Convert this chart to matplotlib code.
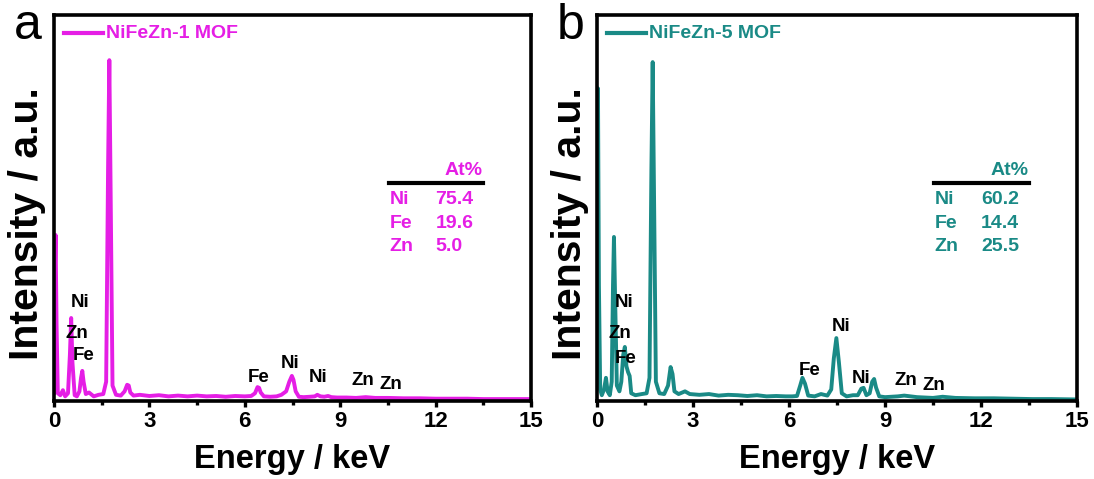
import matplotlib
matplotlib.use("Agg")
import matplotlib.pyplot as plt
from matplotlib.ticker import MultipleLocator

plt.rcParams['font.family'] = ['Liberation Sans', 'DejaVu Sans']
plt.rcParams['font.weight'] = 'bold'

# ---------------- data ----------------
energy_a = [0.00, 0.02, 0.05, 0.08, 0.12, 0.20, 0.28, 0.35, 0.44, 0.50, 0.54, 0.58, 0.65,
            0.72, 0.80, 0.85, 0.89, 0.93, 1.00, 1.10, 1.25, 1.40, 1.55, 1.64, 1.70, 1.74,
            1.78, 1.84, 1.95, 2.10, 2.22, 2.30, 2.35, 2.40, 2.50, 2.70, 3.00, 3.30, 3.60,
            3.90, 4.20, 4.50, 4.80, 5.10, 5.40, 5.70, 6.00, 6.20, 6.32, 6.40, 6.45, 6.50,
            6.60, 6.80, 7.00, 7.15, 7.30, 7.40, 7.48, 7.53, 7.60, 7.70, 7.85, 8.05, 8.20,
            8.28, 8.38, 8.50, 8.62, 8.72, 8.90, 9.20, 9.50, 9.80, 10.10, 10.50, 11.00,
            11.50, 12.00, 12.50, 13.00, 13.50, 14.00, 14.50, 15.00]
intensity_a = [0.02, 0.30, 0.43, 0.20, 0.02, 0.015, 0.028, 0.012, 0.02, 0.12, 0.215, 0.10, 0.015,
               0.012, 0.025, 0.06, 0.078, 0.05, 0.018, 0.022, 0.012, 0.016, 0.018, 0.05, 0.60, 0.883,
               0.55, 0.04, 0.016, 0.014, 0.025, 0.042, 0.04, 0.022, 0.014, 0.016, 0.013, 0.015, 0.012,
               0.014, 0.012, 0.014, 0.012, 0.013, 0.011, 0.013, 0.012, 0.013, 0.02, 0.036, 0.034, 0.022,
               0.012, 0.011, 0.012, 0.016, 0.025, 0.05, 0.065, 0.055, 0.025, 0.011, 0.010, 0.011, 0.012,
               0.016, 0.012, 0.011, 0.013, 0.010, 0.009, 0.009, 0.008, 0.010, 0.008, 0.008, 0.007,
               0.007, 0.006, 0.006, 0.006, 0.005, 0.005, 0.005, 0.005]

energy_b = [0.00, 0.03, 0.06, 0.10, 0.15, 0.22, 0.28, 0.33, 0.40, 0.46, 0.50, 0.53, 0.57,
            0.62, 0.70, 0.76, 0.82, 0.87, 0.92, 0.97, 1.02, 1.07, 1.20, 1.40, 1.55, 1.64,
            1.70, 1.74, 1.78, 1.84, 1.95, 2.10, 2.22, 2.30, 2.36, 2.42, 2.55, 2.75, 2.90,
            3.20, 3.50, 3.80, 4.10, 4.40, 4.70, 5.00, 5.30, 5.60, 5.90, 6.10, 6.25, 6.35,
            6.42, 6.50, 6.60, 6.80, 7.00, 7.20, 7.32, 7.40, 7.48, 7.56, 7.65, 7.80, 8.00,
            8.15, 8.26, 8.33, 8.42, 8.52, 8.60, 8.66, 8.72, 8.82, 9.00, 9.40, 9.60, 10.00,
            10.50, 10.80, 11.20, 11.80, 12.40, 13.00, 13.60, 14.20, 15.00]
intensity_b = [0.50, 0.81, 0.30, 0.03, 0.015, 0.03, 0.06, 0.025, 0.015, 0.05, 0.30, 0.425, 0.25,
               0.04, 0.025, 0.05, 0.12, 0.14, 0.09, 0.075, 0.065, 0.02, 0.015, 0.018, 0.02, 0.06,
               0.60, 0.878, 0.55, 0.05, 0.02, 0.018, 0.04, 0.088, 0.07, 0.025, 0.018, 0.025, 0.018,
               0.016, 0.018, 0.014, 0.016, 0.015, 0.013, 0.015, 0.012, 0.013, 0.012, 0.012, 0.013, 0.04,
               0.06, 0.045, 0.014, 0.012, 0.018, 0.014, 0.03, 0.11, 0.163, 0.10, 0.02, 0.012, 0.015,
               0.015, 0.032, 0.034, 0.015, 0.02, 0.05, 0.057, 0.035, 0.012, 0.010, 0.012, 0.014, 0.010,
               0.008, 0.011, 0.008, 0.007, 0.007, 0.006, 0.005, 0.005, 0.004]

names = ["NiFeZn-1 MOF", "NiFeZn-5 MOF"]
colors = ["#E51EE5", "#1A8A86"]
panel_letters = ["a", "b"]

elements = ["Ni", "Fe", "Zn"]
at_percent_a = ["75.4", "19.6", "5.0"]
at_percent_b = ["60.2", "14.4", "25.5"]

peak_labels_a = ["Ni", "Zn", "Fe", "Fe", "Ni", "Ni", "Zn", "Zn"]
peak_label_x_a = [0.83, 0.73, 0.92, 6.44, 7.43, 8.32, 9.71, 10.60]
peak_label_y_a = [0.256, 0.176, 0.117, 0.062, 0.096, 0.060, 0.052, 0.044]

peak_labels_b = ["Ni", "Zn", "Fe", "Fe", "Ni", "Ni", "Zn", "Zn"]
peak_label_x_b = [0.85, 0.72, 0.91, 6.65, 7.62, 8.25, 9.66, 10.54]
peak_label_y_b = [0.254, 0.174, 0.111, 0.080, 0.192, 0.057, 0.052, 0.041]

x_ticks = [0, 3, 6, 9, 12, 15]

# ---------------- figure ----------------
fig = plt.figure(figsize=(10.94, 4.79), dpi=100)
axes_rects = [[54 / 1094, 78 / 479, 477 / 1094, 386 / 479],
              [597 / 1094, 78 / 479, 480 / 1094, 386 / 479]]

datasets = [(energy_a, intensity_a, at_percent_a, peak_labels_a, peak_label_x_a, peak_label_y_a),
            (energy_b, intensity_b, at_percent_b, peak_labels_b, peak_label_x_b, peak_label_y_b)]

for i, (ex, iy, atp, pl, plx, ply) in enumerate(datasets):
    ax = fig.add_axes(axes_rects[i])
    c = colors[i]
    ax.plot(ex, iy, color=c, lw=2.8, solid_joinstyle='round')
    ax.set_xlim(0, 15)
    ax.set_ylim(0, 1)
    ax.set_xticks(x_ticks)
    ax.xaxis.set_minor_locator(MultipleLocator(1.5))
    ax.set_yticks([])
    ax.tick_params(axis='x', which='both', direction='out', width=2.4, labelsize=16,
                   pad=3)
    ax.tick_params(axis='x', which='major', length=4)
    ax.tick_params(axis='x', which='minor', length=3)
    for lab in ax.get_xticklabels():
        lab.set_fontweight('bold')
    for s in ax.spines.values():
        s.set_linewidth(2.6)
    ax.set_xlabel("Energy / keV", fontsize=23.5, fontweight='bold', labelpad=9)
    ax.set_ylabel("Intensity / a.u.", fontsize=29.5, fontweight='bold')
    ax.yaxis.set_label_coords(-0.016, 0.46)

    # legend-like entry
    ax.plot([0.021, 0.103], [0.953, 0.953], transform=ax.transAxes, color=c, lw=3,
            clip_on=False)
    ax.text(0.109, 0.953, names[i], transform=ax.transAxes, color=c, fontsize=14,
            fontweight='bold', va='center', ha='left')

    # panel letter
    fig.text(axes_rects[i][0] - 40 / 1094, 1 - 26 / 479, panel_letters[i], fontsize=36,
             fontweight='normal', ha='left', va='center')

    # composition table
    ax.plot([0.703, 0.899], [0.565, 0.565], transform=ax.transAxes, color='black', lw=3)
    ax.text(0.899, 0.597, "At%", transform=ax.transAxes, color=c, fontsize=14,
            fontweight='bold', ha='right', va='center')
    ys = [0.523, 0.461, 0.399]
    for el, val, yy in zip(elements, atp, ys):
        ax.text(0.703, yy, el, transform=ax.transAxes, color=c, fontsize=14,
                fontweight='bold', ha='left', va='center')
        ax.text(0.80, yy, val, transform=ax.transAxes, color=c, fontsize=14,
                fontweight='bold', ha='left', va='center')

    # peak labels
    for t, xx, yy in zip(pl, plx, ply):
        ax.text(xx, yy, t, color='black', fontsize=13.5, fontweight='bold',
                ha='center', va='center')

fig.savefig("out.png", dpi=100)
